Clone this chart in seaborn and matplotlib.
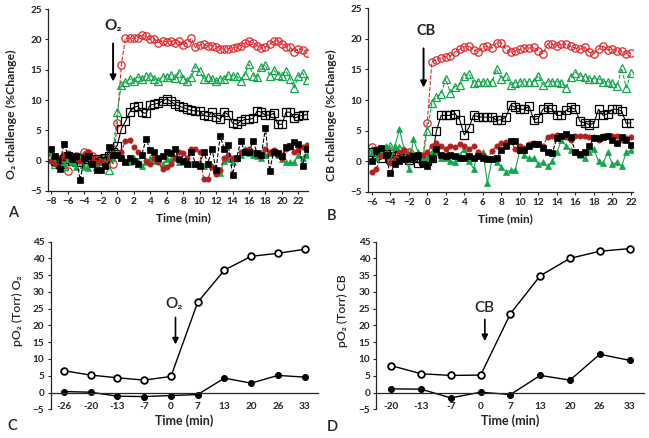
import numpy as np
import pandas as pd
import seaborn as sns
import matplotlib.pyplot as plt

# Time grids (0.5 min sampling)
t_a = np.arange(-8, 23.01, 0.5)
t_b = np.arange(-6, 22.01, 0.5)

# Panel A - O2 challenge (%Change)
red_open_a = [0.5, 0.0, 0.3, 0.8, -1.7, 0.5, 0.8, 0.5, 1.5, 1.2, 0.8, 0.3, 0.5, 0.0, 0.5, -0.5,
              6.2, 15.8, 20.2, 20.2, 20.2, 20.2, 20.8, 20.5, 20.0, 20.1, 19.5, 19.8, 19.6, 19.8, 19.4, 19.7,
              19.1, 19.5, 20.2, 18.7, 19.1, 19.2, 18.9, 19.0, 18.8, 18.5, 18.4, 18.5, 18.6, 18.8, 19.0, 19.4,
              19.7, 19.4, 19.0, 18.6, 18.7, 19.2, 19.7, 19.8, 19.3, 18.8, 18.7, 18.0, 18.5, 18.3, 17.8]
green_open_a = [1.0, -0.5, 0.2, -0.8, 0.0, 0.5, -0.3, 0.8, -0.5, 0.3, 0.0, -0.8, 0.5, 0.2, -1.6, 1.5,
                8.0, 12.5, 13.0, 13.5, 13.2, 13.8, 13.5, 14.0, 14.0, 13.5, 13.2, 13.8, 13.8, 14.2, 13.6, 14.5,
                13.5, 13.2, 13.8, 15.5, 14.8, 13.5, 13.8, 13.5, 13.2, 13.5, 13.5, 14.2, 14.0, 14.0, 13.2, 14.2,
                15.9, 14.0, 13.8, 15.5, 15.8, 14.0, 15.0, 14.2, 14.0, 14.8, 13.5, 12.0, 14.0, 14.5, 13.3]
black_open_a = [0.5, 0.0, -0.5, 0.3, 0.8, 0.0, 0.5, -0.3, 0.2, 0.6, -0.2, 0.3, 0.0, 0.5, 0.8, 1.5,
                2.5, 5.2, 6.5, 8.0, 8.8, 9.0, 8.0, 7.8, 9.2, 9.3, 9.5, 9.8, 10.2, 9.8, 9.3, 9.0,
                8.8, 8.5, 8.3, 8.2, 8.2, 7.5, 7.3, 8.0, 7.2, 6.8, 8.0, 7.6, 6.2, 6.0, 6.5, 6.8,
                6.8, 7.0, 8.2, 8.0, 7.5, 7.5, 7.8, 6.0, 6.0, 8.0, 8.0, 7.0, 7.3, 7.5, 7.6]
red_fill_a = [0.0, -0.5, -1.2, 0.8, 1.2, 0.5, 0.3, 0.0, 1.0, 1.5, 0.5, -0.3, 0.0, -0.5, 0.5, 1.2,
              1.0, 1.5, 3.3, 3.4, 2.3, 1.5, 1.0, 0.0, -0.5, 0.5, -0.3, -1.3, -1.0, -0.5, 0.5, 1.5,
              1.2, 0.5, 2.0, 2.0, 1.5, -3.1, -3.1, -1.0, -2.2, -1.5, 0.5, 1.0, 0.5, 0.2, 1.5, 1.8,
              2.0, 1.5, 1.0, 0.8, 2.0, 1.5, 1.8, 1.0, 0.5, 2.0, 2.3, 1.5, 1.8, 2.2, 2.6]
black_fill_a = [2.0, 0.8, -1.3, 2.8, 1.0, 0.3, 0.8, -3.2, 0.5, 0.8, -0.5, -1.5, -1.5, -0.8, 2.2, 1.0,
                1.0, 0.5, -0.3, 0.5, 0.0, -0.5, 1.0, 3.6, 1.8, 1.5, 0.5, 0.8, 1.5, 1.2, 2.0, 0.2,
                0.0, -0.5, 1.5, -0.5, -0.8, 1.5, -0.5, 2.0, -1.5, 4.0, 2.0, 2.6, -2.3, 0.5, 3.2, 1.5,
                1.5, 3.2, 1.2, 1.0, 5.4, -1.7, 1.5, 1.2, 0.8, 2.3, 2.5, 3.0, 2.8, -0.8, 2.0]
green_fill_a = [1.2, 0.0, -0.8, -0.5, 0.3, -0.3, -1.0, 0.5, -1.0, -1.2, -0.5, -0.8, -0.3, 0.0, 0.8, 0.5,
                1.2, 0.5, 0.0, -0.2, 0.5, 0.0, -0.8, -0.3, 0.5, 0.0, 0.2, -0.5, 0.2, 0.3, 0.5, -0.3,
                -0.2, 0.0, -0.5, -0.5, -0.2, -0.8, -0.5, -0.8, -1.2, -2.0, 0.0, 0.3, -0.3, 0.5, 1.0, 2.0,
                1.2, 1.0, 0.8, 0.5, 1.0, 1.2, 1.5, 1.0, 0.3, -0.3, -0.3, -0.3, 1.0, 0.5, 1.0]

# Panel B - CB challenge (%Change)
red_open_b = [2.3, 1.8, 1.5, 2.0, 1.5, 1.0, 1.8, 1.2, 1.5, 0.8, 0.5, 0.3,
              6.3, 16.2, 16.6, 16.9, 17.1, 17.2, 17.9, 18.3, 18.7, 18.8, 18.2, 17.9, 18.6, 18.8, 18.5,
              19.4, 19.3, 18.3, 17.8, 18.0, 18.3, 18.5, 18.5, 18.6, 18.0, 17.6, 19.2, 19.1, 18.9, 19.1,
              19.1, 18.8, 18.5, 18.3, 18.7, 17.8, 17.6, 18.3, 18.8, 18.2, 18.3, 18.0, 18.0, 17.6, 17.7]
green_open_b = [1.8, 1.0, 2.0, 1.2, 2.5, 1.5, 2.2, 0.8, 1.5, 1.0, 0.5, 0.3,
                5.0, 9.5, 10.5, 11.0, 13.5, 11.2, 12.2, 12.5, 14.0, 14.3, 12.8, 13.0, 13.0, 13.0, 13.0,
                15.0, 13.5, 14.0, 12.5, 12.8, 13.0, 13.0, 13.0, 13.0, 14.0, 12.5, 13.0, 13.0, 13.0, 12.8,
                12.0, 13.8, 14.5, 14.0, 13.8, 13.5, 13.5, 13.5, 13.0, 13.0, 12.8, 12.3, 15.2, 12.0, 14.5]
black_open_b = [1.5, 1.0, 0.5, 1.2, 0.3, 0.8, 1.0, 0.5, 0.2, 0.5, -0.3, 0.0,
                0.0, 0.5, 5.0, 7.5, 7.5, 7.5, 7.8, 6.8, 4.3, 5.5, 7.5, 7.3, 7.2, 7.2, 7.2,
                6.7, 6.8, 7.2, 9.2, 8.8, 8.5, 8.5, 9.0, 6.8, 7.0, 8.5, 8.8, 8.5, 7.5, 7.5,
                8.3, 8.8, 8.5, 6.5, 6.3, 6.0, 6.2, 8.5, 7.5, 7.8, 8.5, 8.5, 8.2, 6.2, 6.3]
red_fill_b = [-1.7, -1.3, 0.8, 1.2, -0.3, 0.5, 1.5, 1.8, 1.2, 0.8, 1.0, 1.0,
              1.5, 2.5, 3.0, 2.5, 2.0, 2.5, 2.3, 2.8, 2.5, 2.0, 2.5, 1.5, 1.0, 0.5, 1.7,
              2.5, 3.0, 3.2, 3.3, 2.0, 2.5, 2.2, 2.8, 3.0, 2.8, 2.5, 4.0, 4.2, 4.3, 4.1,
              4.0, 3.5, 4.2, 4.2, 4.2, 4.0, 3.9, 3.5, 4.2, 4.2, 4.2, 4.2, 3.5, 3.8, 4.0]
black_fill_b = [0.0, 1.8, 2.2, 1.0, -2.0, -0.5, 0.0, 0.3, 0.5, 0.8, 1.0, -0.5,
                -0.8, 0.5, 2.0, 1.0, 0.8, 1.0, 0.8, 0.5, 0.5, 0.8, 0.5, 0.8, 0.5, 0.3, 0.3,
                0.5, 1.8, 2.5, 3.3, 3.3, 1.8, 1.8, 2.5, 2.8, 2.8, 2.2, 1.5, 1.3, 3.8, 4.2,
                4.5, 4.0, 1.5, 1.2, 1.5, 2.5, 3.8, 3.8, 4.0, 4.2, 3.5, 3.0, 4.0, 3.5, 2.7]
green_fill_b = [1.5, 0.5, 1.5, 2.5, 0.0, 2.5, 5.2, 2.0, -1.2, 3.6, 1.5, 0.5,
                0.5, 1.5, 1.5, 0.5, 0.5, 0.0, -0.2, 1.0, 2.0, 0.0, -1.2, 1.5, 1.5, -3.5, 0.3,
                -0.2, -1.0, -1.7, -1.5, -1.5, 1.8, 1.0, 0.5, 0.5, -0.5, -0.2, -0.8, 0.0, 1.5, 3.5,
                2.5, 1.8, 1.5, 1.0, 0.5, 1.5, 2.0, 0.0, -0.3, 1.5, -0.5, -0.2, -0.8, 1.5, 1.8]

# Panels C / D - pO2 (Torr)
time_c = ['-26', '-20', '-13', '-7', '0', '7', '13', '20', '26', '33']
open_c = [6.5, 5.2, 4.4, 3.7, 4.8, 26.9, 36.5, 40.6, 41.5, 42.7]
fill_c = [0.3, 0.1, -1.1, -1.2, -0.9, -0.6, 4.3, 2.8, 5.1, 4.6]
time_d = ['-20', '-13', '-7', '0', '7', '13', '20', '26', '33']
open_d = [8.0, 5.6, 5.1, 5.2, 23.5, 34.8, 40.0, 42.1, 42.9]
fill_d = [1.1, 1.0, -1.6, 0.1, -0.6, 5.1, 3.7, 11.4, 9.6]

RED = '#e3262b'
DRED = '#b3201f'
GREEN = '#12a84a'

sns.set_style('ticks')
plt.rcParams['font.family'] = ['Lato', 'DejaVu Sans']
plt.rcParams['font.weight'] = 'bold'

fig = plt.figure(figsize=(6.49, 4.38), dpi=100)
ax_a = fig.add_axes([0.074, 0.564, 0.401, 0.415])
ax_b = fig.add_axes([0.567, 0.562, 0.408, 0.419])
ax_c = fig.add_axes([0.078, 0.0655, 0.412, 0.383])
ax_d = fig.add_axes([0.580, 0.0655, 0.413, 0.383])

series_styles = [
    # name, color, marker, linestyle, filled
    ('red_open', RED, 'o', '--', False),
    ('green_open', GREEN, '^', '--', False),
    ('black_open', 'black', 's', '-', False),
    ('green_fill', GREEN, '^', '-', True),
    ('red_fill', DRED, 'o', '--', True),
    ('black_fill', 'black', 's', '--', True),
]


def draw_top(ax, t, data, xlim, xticks, ylabel):
    for name, col, mk, ls, filled in series_styles:
        if filled:
            sns.lineplot(x=t, y=data[name], ax=ax, color=col, marker=mk, linestyle=ls,
                         lw=0.8, markersize=3.8, markerfacecolor=col, markeredgecolor=col,
                         markeredgewidth=0.5, errorbar=None)
        else:
            sns.lineplot(x=t, y=data[name], ax=ax, color=col, marker=mk, linestyle=ls,
                         lw=0.8, markersize=5.3, markerfacecolor='none', markeredgecolor=col,
                         markeredgewidth=0.9, errorbar=None)
    ax.set_xlim(*xlim)
    ax.set_ylim(-5, 25)
    ax.set_xticks(xticks)
    ax.set_yticks(range(-5, 26, 5))
    sns.despine(ax=ax)
    ax.tick_params(labelsize=7.2, length=2.5, width=0.8, pad=2)
    ax.set_xlabel('Time (min)', fontsize=8.5, fontweight='bold')
    ax.xaxis.set_label_coords(0.52, -0.115)
    ax.set_ylabel(ylabel, fontsize=8.8, fontweight='bold')
    ax.yaxis.set_label_coords(-0.118, 0.42)
    for s in ax.spines.values():
        s.set_linewidth(0.9)


data_a = dict(red_open=red_open_a, green_open=green_open_a, black_open=black_open_a,
              red_fill=red_fill_a, black_fill=black_fill_a, green_fill=green_fill_a)
data_b = dict(red_open=red_open_b, green_open=green_open_b, black_open=black_open_b,
              red_fill=red_fill_b, black_fill=black_fill_b, green_fill=green_fill_b)

draw_top(ax_a, t_a, data_a, (-8.4, 23.2), range(-8, 23, 2), 'O\u2082 challenge (%Change)')
draw_top(ax_b, t_b, data_b, (-6.4, 22.2), range(-6, 23, 2), 'CB challenge (%Change)')

ax_a.text(-0.5, 21.0, 'O\u2082', fontsize=11, fontweight='bold', ha='center', va='bottom')
ax_a.annotate('', xy=(-0.5, 12.6), xytext=(-0.5, 19.8),
              arrowprops=dict(arrowstyle='-|>', color='black', lw=1.4, mutation_scale=9))
ax_b.text(-0.1, 20.2, 'CB', fontsize=10.5, fontweight='bold', ha='center', va='bottom')
ax_b.annotate('', xy=(-0.4, 11.6), xytext=(-0.4, 18.9),
              arrowprops=dict(arrowstyle='-|>', color='black', lw=1.4, mutation_scale=9))


def draw_bottom(ax, labels, opn, fil, ylabel, tag, tag_xy):
    pos = np.arange(len(labels))
    sns.lineplot(x=pos, y=opn, ax=ax, color='black', marker='o', lw=1.0, markersize=4.8,
                 markerfacecolor='white', markeredgecolor='black', markeredgewidth=1.3,
                 errorbar=None)
    sns.lineplot(x=pos, y=fil, ax=ax, color='black', marker='o', lw=1.0, markersize=4.3,
                 markerfacecolor='black', markeredgecolor='black', errorbar=None)
    ax.set_xlim(-0.5, len(labels) - 0.5)
    ax.set_ylim(-5, 45)
    ax.set_yticks(range(-5, 46, 5))
    ax.set_xticks(pos)
    ax.set_xticklabels(labels)
    sns.despine(ax=ax)
    ax.spines['bottom'].set_position(('data', 0))
    ax.tick_params(axis='x', length=0, labelsize=7.2, pad=6.5)
    ax.tick_params(axis='y', length=2.5, width=0.8, labelsize=7.2, pad=2)
    for s in ax.spines.values():
        s.set_linewidth(0.9)
    ax.set_xlabel('Time (min)', fontsize=9, fontweight='bold')
    ax.xaxis.set_label_coords(0.5, -0.03)
    ax.set_ylabel(ylabel, fontsize=8.8, fontweight='semibold')
    ax.yaxis.set_label_coords(-0.105, 0.59)
    ax.text(tag_xy[0], tag_xy[1], tag, fontsize=11, fontweight='semibold', ha='center', va='bottom')


draw_bottom(ax_c, time_c, open_c, fill_c, 'pO\u2082 (Torr) O\u2082', 'O\u2082', (4.12, 24.3))
ax_c.annotate('', xy=(4.17, 13.5), xytext=(4.17, 23.2),
              arrowprops=dict(arrowstyle='-|>', color='black', lw=1.2, mutation_scale=9))
draw_bottom(ax_d, time_d, open_d, fill_d, 'pO\u2082 (Torr) CB', 'CB', (3.14, 23.2))
ax_d.annotate('', xy=(3.14, 14.5), xytext=(3.14, 22.6),
              arrowprops=dict(arrowstyle='-|>', color='black', lw=1.2, mutation_scale=9))

for lbl, x, y in [('A', 0.012, 0.505), ('B', 0.503, 0.497), ('C', 0.011, 0.018), ('D', 0.503, 0.016)]:
    fig.text(x, y, lbl, fontsize=10.5, fontweight='semibold')

fig.savefig('out.png', dpi=100)
